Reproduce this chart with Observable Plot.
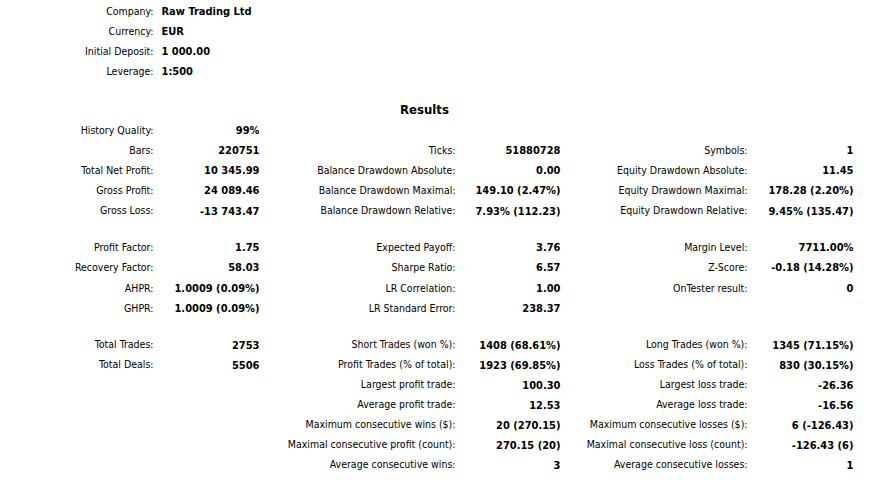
<!DOCTYPE html>
<html><head><meta charset="utf-8">
<script src="https://cdn.jsdelivr.net/npm/d3@7"></script>
<script src="https://cdn.jsdelivr.net/npm/@observablehq/plot@0.6"></script>
<style>body{margin:0;background:#fff} svg{display:block}</style>
</head><body><div id="chart"></div>
<script>
// ---- data ----
const headerLabels = ["Company:", "Currency:", "Initial Deposit:", "Leverage:"];
const headerValues = ["Raw Trading Ltd", "EUR", "1 000.00", "1:500"];
const sectionTitle = "Results";
const col1Labels = ["History Quality:", "Bars:", "Total Net Profit:", "Gross Profit:", "Gross Loss:", null,
  "Profit Factor:", "Recovery Factor:", "AHPR:", "GHPR:", null,
  "Total Trades:", "Total Deals:"];
const col1Values = ["99%", "220751", "10 345.99", "24 089.46", "-13 743.47", null,
  "1.75", "58.03", "1.0009 (0.09%)", "1.0009 (0.09%)", null,
  "2753", "5506"];
const col2Labels = [null, "Ticks:", "Balance Drawdown Absolute:", "Balance Drawdown Maximal:", "Balance Drawdown Relative:", null,
  "Expected Payoff:", "Sharpe Ratio:", "LR Correlation:", "LR Standard Error:", null,
  "Short Trades (won %):", "Profit Trades (% of total):", "Largest profit trade:", "Average profit trade:",
  "Maximum consecutive wins ($):", "Maximal consecutive profit (count):", "Average consecutive wins:"];
const col2Values = [null, "51880728", "0.00", "149.10 (2.47%)", "7.93% (112.23)", null,
  "3.76", "6.57", "1.00", "238.37", null,
  "1408 (68.61%)", "1923 (69.85%)", "100.30", "12.53",
  "20 (270.15)", "270.15 (20)", "3"];
const col3Labels = [null, "Symbols:", "Equity Drawdown Absolute:", "Equity Drawdown Maximal:", "Equity Drawdown Relative:", null,
  "Margin Level:", "Z-Score:", "OnTester result:", null, null,
  "Long Trades (won %):", "Loss Trades (% of total):", "Largest loss trade:", "Average loss trade:",
  "Maximum consecutive losses ($):", "Maximal consecutive loss (count):", "Average consecutive losses:"];
const col3Values = [null, "1", "11.45", "178.28 (2.20%)", "9.45% (135.47)", null,
  "7711.00%", "-0.18 (14.28%)", "0", null, null,
  "1345 (71.15%)", "830 (30.15%)", "-26.36", "-16.56",
  "6 (-126.43)", "-126.43 (6)", "1"];

// ---- layout ----
const COLX = {l1: 153, v1: 259, hv: 161, l2: 455, v2: 560, l3: 747, v3: 853, title: 424};
const RESULTS_ROW = 5;  // grid row of the title
// piecewise row layout: blank rows between sections are narrower
const rowY = d3.scaleLinear()
  .domain([0, 3, 5, 6, 10, 12, 15, 17, 23])
  .range([11, 71, 109.5, 130, 210.5, 247, 308, 344.5, 464.5]);
const cells = [];
headerLabels.forEach((t, i) => cells.push({row: i, col: "l1", text: t, kind: "label"}));
headerValues.forEach((t, i) => cells.push({row: i, col: "hv", text: t, kind: "head"}));
const addCol = (arr, col, kind) => arr.forEach((t, i) => { if (t != null) cells.push({row: RESULTS_ROW + 1 + i, col, text: t, kind}); });
addCol(col1Labels, "l1", "label"); addCol(col1Values, "v1", "value");
addCol(col2Labels, "l2", "label"); addCol(col2Values, "v2", "value");
addCol(col3Labels, "l3", "label"); addCol(col3Values, "v3", "value");

const FONT = "Tahoma, 'DejaVu Sans Condensed', 'DejaVu Sans', sans-serif";
const Y = d => rowY(d.row);
const chart = Plot.plot({
  width: 873, height: 480, margin: 0,
  style: {fontFamily: FONT, fontSize: "11px", background: "#fff", color: "#000"},
  x: {domain: [0, 873], range: [0, 873], axis: null},
  y: {domain: [0, 480], range: [0, 480], axis: null},
  marks: [
    Plot.text(cells.filter(d => d.kind === "label"), {x: d => COLX[d.col], y: Y, text: "text", textAnchor: "end", fill: "#000", fontSize: 10.5}),
    Plot.text(cells.filter(d => d.kind === "value"), {x: d => COLX[d.col], y: Y, text: "text", textAnchor: "end", fill: "#000", fontWeight: "bold", fontSize: 11}),
    Plot.text(cells.filter(d => d.kind === "head"), {x: d => COLX[d.col], y: Y, text: "text", textAnchor: "start", fill: "#000", fontWeight: "bold", fontSize: 11}),
    Plot.text([{row: RESULTS_ROW, text: sectionTitle}], {x: () => COLX.title, y: Y, text: "text", textAnchor: "middle", fill: "#000", fontWeight: "bold", fontSize: 13})
  ]
});
document.getElementById("chart").append(chart);
</script></body></html>
